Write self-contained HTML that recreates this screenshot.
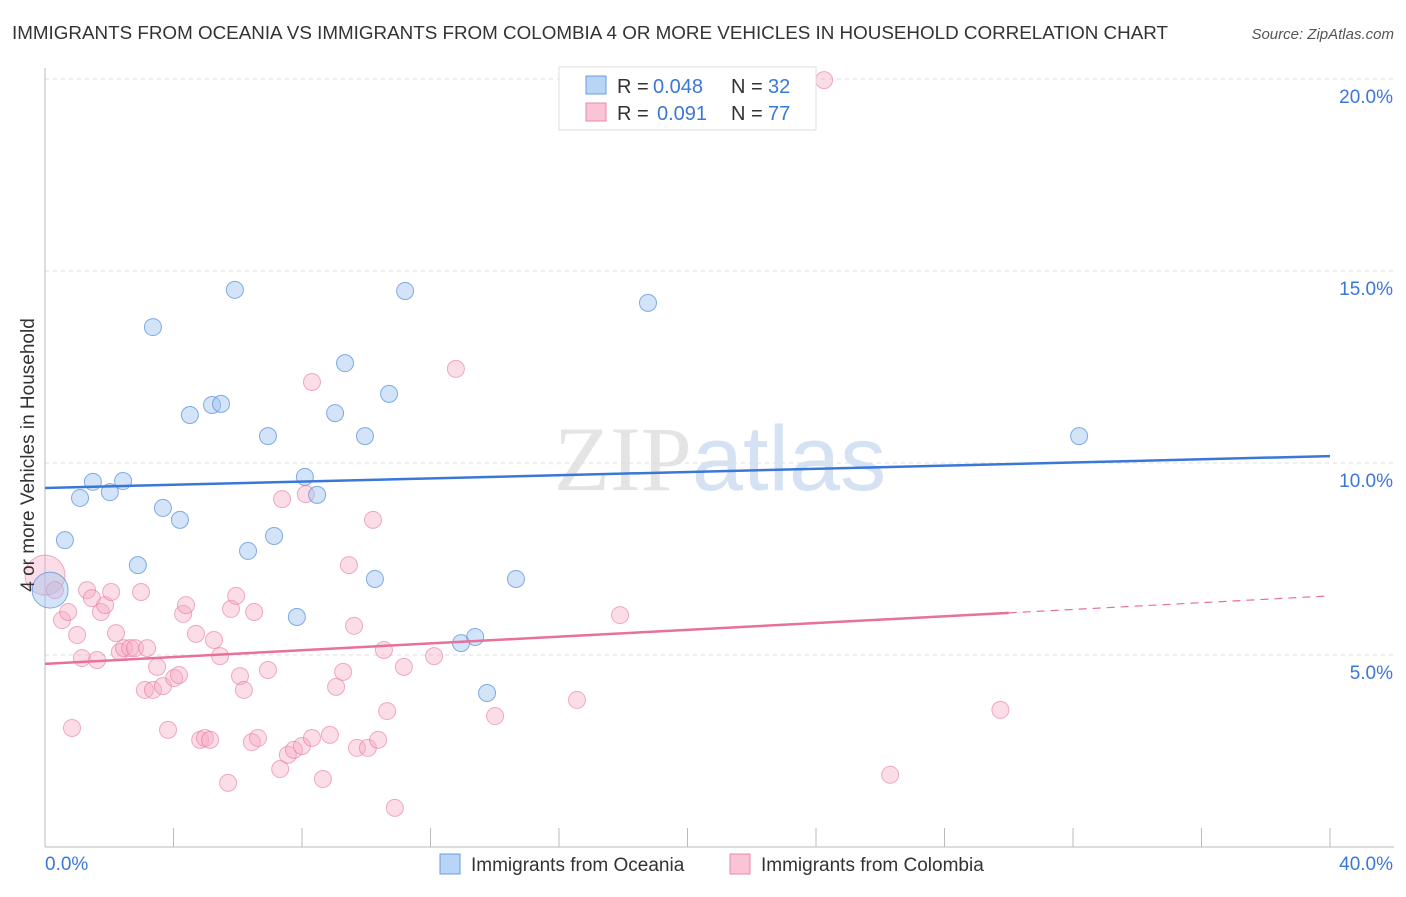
<!DOCTYPE html>
<html><head><meta charset="utf-8"><style>
body{margin:0;background:#fff;font-family:"Liberation Sans",sans-serif;}
</style></head><body>
<svg id="c" width="1406" height="892" xmlns="http://www.w3.org/2000/svg" style="font-family:'Liberation Sans',sans-serif">
<text x="12" y="39" font-size="18" fill="#333" textLength="1156" lengthAdjust="spacingAndGlyphs">IMMIGRANTS FROM OCEANIA VS IMMIGRANTS FROM COLOMBIA 4 OR MORE VEHICLES IN HOUSEHOLD CORRELATION CHART</text>
<text x="1394" y="39" font-size="15" fill="#555" font-style="italic" text-anchor="end">Source: ZipAtlas.com</text>
<text x="720" y="490" font-size="92" fill="#e4e4e4" text-anchor="middle" font-family="Liberation Serif">ZIP<tspan fill="#d4e2f4" font-family="Liberation Sans">atlas</tspan></text>
<g id="grid"></g><g id="axes"></g><g id="marks"></g>
<text transform="translate(34,455) rotate(-90)" font-size="19" fill="#333" text-anchor="middle">4 or more Vehicles in Household</text>
<g>
<rect x="559" y="67" width="257" height="63" fill="#fff" stroke="#ddd"/>
<rect x="586" y="76" width="20" height="18" fill="#b8d4f6" stroke="#6a9de0"/>
<rect x="586" y="103" width="20" height="18" fill="#fac4d4" stroke="#e88aaa"/>
<text x="617" y="93" font-size="20" fill="#333">R =</text>
<text x="653" y="93" font-size="20" fill="#3a78d8">0.048</text>
<text x="731" y="93" font-size="20" fill="#333">N =</text>
<text x="768" y="93" font-size="20" fill="#3a78d8">32</text>
<text x="617" y="120" font-size="20" fill="#333">R =</text>
<text x="657" y="120" font-size="20" fill="#3a78d8">0.091</text>
<text x="731" y="120" font-size="20" fill="#333">N =</text>
<text x="768" y="120" font-size="20" fill="#3a78d8">77</text>
</g>
<g>
<rect x="440" y="854" width="20" height="20" fill="#b8d4f6" stroke="#6a9de0"/>
<text x="471" y="871" font-size="19" fill="#333">Immigrants from Oceania</text>
<rect x="730" y="854" width="20" height="20" fill="#fac4d4" stroke="#e88aaa"/>
<text x="761" y="871" font-size="19" fill="#333">Immigrants from Colombia</text>
</g>
</svg>
<script>
const blueX=[0.16,0.62,1.09,1.49,2.02,2.43,2.89,3.36,3.67,4.20,4.51,5.20,5.48,5.91,6.32,6.94,7.13,7.84,8.09,8.47,9.03,9.34,9.96,10.27,10.71,11.21,12.95,13.39,13.76,14.66,18.77,32.19];
const blueY=[6.69,7.99,9.09,9.51,9.24,9.53,7.34,13.54,8.83,8.52,11.25,11.51,11.54,14.51,7.71,10.70,8.10,5.99,9.64,9.17,11.30,12.60,10.70,6.98,11.80,14.48,5.31,5.47,4.01,6.98,14.17,10.70];
const pinkX=[0.00,0.31,0.53,0.72,0.84,1.00,1.15,1.31,1.46,1.62,1.74,1.87,2.06,2.21,2.33,2.46,2.65,2.80,2.99,3.11,3.18,3.36,3.49,3.67,3.83,4.02,4.17,4.30,4.39,4.70,4.83,4.98,5.14,5.26,5.45,5.70,5.79,5.95,6.07,6.19,6.44,6.51,6.63,6.94,7.32,7.38,7.56,7.75,8.00,8.12,8.31,8.31,8.65,8.87,9.06,9.28,9.46,9.62,9.71,10.05,10.21,10.37,10.55,10.65,10.89,11.17,12.11,12.79,14.01,16.56,17.90,24.25,26.31,29.74];
const pinkY=[7.08,6.69,5.91,6.12,3.10,5.52,4.92,6.69,6.48,4.87,6.12,6.30,6.64,5.57,5.08,5.18,5.18,5.18,6.64,4.09,5.18,4.09,4.69,4.19,3.05,4.40,4.48,6.07,6.30,5.55,2.79,2.84,2.79,5.39,4.97,1.67,6.20,6.54,4.45,4.09,2.73,6.12,2.84,4.61,2.03,9.06,2.40,2.53,2.63,9.19,12.11,2.84,1.77,2.92,4.17,4.56,7.34,5.76,2.58,2.58,8.52,2.79,5.13,3.54,1.02,4.69,4.97,12.45,3.41,3.83,6.04,19.97,1.88,3.57];
const yTicks=[5,10,15,20];
const yTickLabels=["5.0%","10.0%","15.0%","20.0%"];
const blueTrend=[9.35,10.18];
const pinkTrend=[4.77,6.54];
const NS="http://www.w3.org/2000/svg";
const sx=v=>45+v/40*1285, sy=v=>847-v*38.4;
function mk(t,a,p){const e=document.createElementNS(NS,t);for(const k in a)e.setAttribute(k,a[k]);document.getElementById(p).appendChild(e);return e;}
yTicks.forEach((t,i)=>{
 const l=mk('line',{x1:45,x2:1394,y1:sy(t),y2:sy(t),stroke:'#ddd','stroke-dasharray':'4,4'},'grid');
 
 
 const tx=mk('text',{x:1393,y:sy(t)+24,'font-size':19,fill:'#3a78d8','text-anchor':'end'},'axes');
 tx.textContent=yTickLabels[i];
 
 
});
mk('line',{x1:45,x2:45,y1:68,y2:847,stroke:'#bbb'},'axes');
mk('line',{x1:45,x2:1394,y1:847,y2:847,stroke:'#bbb'},'axes');
for(let i=0;i<=10;i++){mk('line',{x1:sx(i*4),x2:sx(i*4),y1:828,y2:847,stroke:'#bbb'},'axes');}
let a=mk('text',{x:45,y:870,'font-size':19,fill:'#3a78d8'},'axes');a.textContent='0.0%';


a=mk('text',{x:1393,y:870,'font-size':19,fill:'#3a78d8','text-anchor':'end'},'axes');a.textContent='40.0%';


pinkX.forEach((x,i)=>{const c=mk('circle',{cx:sx(x),cy:sy(pinkY[i]),r:i==0?20:8.5,fill:'rgba(245,170,195,0.4)',stroke:'rgba(232,120,160,0.6)'},'marks');
 
 });
blueX.forEach((x,i)=>{const c=mk('circle',{cx:sx(x),cy:sy(blueY[i]),r:i==0?18:8.5,fill:'rgba(160,195,240,0.45)',stroke:'rgba(90,145,220,0.75)'},'marks');
 
 });
let t=mk('line',{x1:sx(0),y1:sy(blueTrend[0]),x2:sx(40),y2:sy(blueTrend[1]),stroke:'#3a78d8','stroke-width':2.5},'marks');


const pm=pinkTrend[0]+(pinkTrend[1]-pinkTrend[0])*30/40;
t=mk('line',{x1:sx(0),y1:sy(pinkTrend[0]),x2:sx(30),y2:sy(pm),stroke:'#e8709a','stroke-width':2.5},'marks');


t=mk('line',{x1:sx(30),y1:sy(pm),x2:sx(40),y2:sy(pinkTrend[1]),stroke:'#e8709a','stroke-width':1.2,'stroke-dasharray':'8,6'},'marks');


</script>
</body></html>
